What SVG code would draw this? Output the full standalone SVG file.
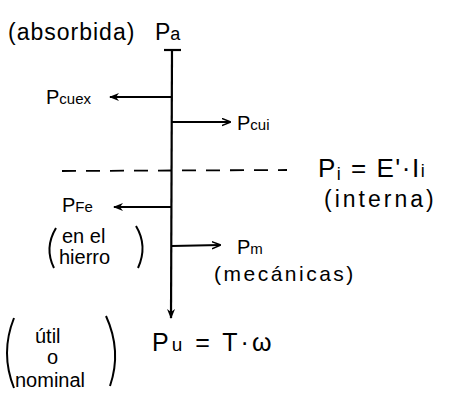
<svg xmlns="http://www.w3.org/2000/svg" width="452" height="394" viewBox="0 0 452 394">
<style>
text{font-family:"Liberation Sans","DejaVu Sans",sans-serif;fill:#000;}
.t{font-size:23px;}
.s{font-size:20px;}
.line{stroke:#000;stroke-width:2.2;fill:none;}
.paren{stroke:#000;stroke-width:2;fill:none;}
</style>
<defs>
<marker id="ah" viewBox="0 0 10 10" refX="9" refY="5" markerWidth="9" markerHeight="9" markerUnits="userSpaceOnUse" orient="auto">
<path d="M0,1 L10,5 L0,9" fill="none" stroke="#000" stroke-width="1.6"/>
</marker>
<marker id="ahf" viewBox="0 0 10 10" refX="9" refY="5" markerWidth="10" markerHeight="10" markerUnits="userSpaceOnUse" orient="auto">
<path d="M0,1 L10,5 L0,9 L3,5 Z" fill="#000"/>
</marker>
</defs>
<rect width="452" height="394" fill="#fff"/>
<g id="connectors">
<line class="line" x1="164" y1="50" x2="181" y2="50"/>
<line class="line" x1="172" y1="50" x2="171" y2="318" marker-end="url(#ahf)"/>
<line class="line" x1="172" y1="97" x2="110" y2="97" marker-end="url(#ahf)"/>
<line class="line" x1="172" y1="122" x2="230" y2="122" marker-end="url(#ah)"/>
<line class="line" x1="172" y1="207" x2="114" y2="207" marker-end="url(#ahf)"/>
<line class="line" x1="172" y1="246" x2="220" y2="245" marker-end="url(#ah)"/>
<line stroke="#000" stroke-width="1.8" stroke-dasharray="14,10" x1="62" y1="171" x2="287" y2="170"/>
</g>
<g id="node-pa">
<text class="t" x="8" y="40" letter-spacing="1">(absorbida)</text>
<text class="t" x="155" y="40">P<tspan font-size="18">a</tspan></text>
</g>
<g id="node-pcuex">
<text class="s" x="46" y="104">P<tspan font-size="15">cuex</tspan></text>
</g>
<g id="node-pcui">
<text class="s" x="237" y="130">P<tspan font-size="15">cui</tspan></text>
</g>
<g id="node-pi">
<text x="318" y="177" font-size="26" letter-spacing="1.5">P<tspan font-size="18" dy="3">i</tspan><tspan dy="-3"> = E'·I</tspan><tspan font-size="18">i</tspan></text>
<text x="324" y="207" font-size="23" letter-spacing="3">(interna)</text>
</g>
<g id="node-pfe">
<text class="s" x="62" y="212">P<tspan font-size="15">Fe</tspan></text>
<path class="paren" d="M56,228 Q44,248 54,268"/>
<text class="s" x="62" y="243">en el</text>
<text class="s" x="59" y="264">hierro</text>
<path class="paren" d="M136,226 Q148,246 138,268"/>
</g>
<g id="node-pm">
<text class="s" x="237" y="254">P<tspan font-size="15">m</tspan></text>
<text x="214" y="281" font-size="21" letter-spacing="2.5">(mecánicas)</text>
</g>
<g id="node-pu">
<path class="paren" d="M14,318 Q0,353 14,388"/>
<text class="s" x="35" y="343">útil</text>
<text class="s" x="47" y="364">o</text>
<text class="s" x="15" y="387">nominal</text>
<path class="paren" d="M106,316 Q122,351 110,386"/>
<text x="152" y="351" font-size="25" letter-spacing="3">P<tspan font-size="19">u</tspan> = T·ω</text>
</g>
</svg>
